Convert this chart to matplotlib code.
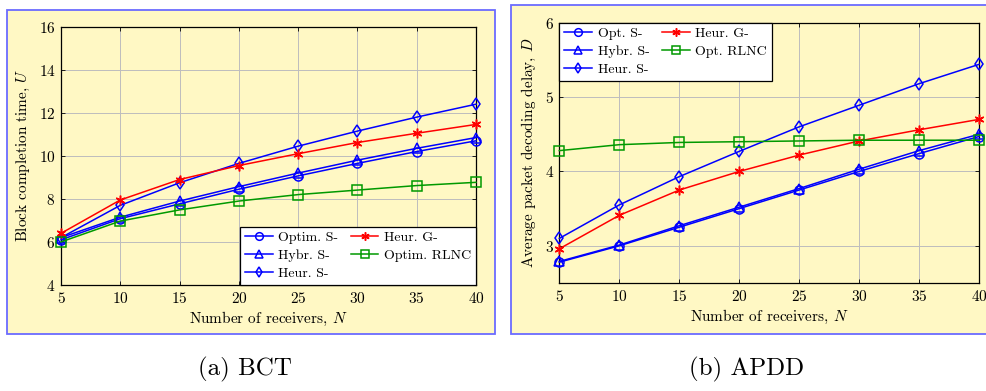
import numpy as np
import matplotlib
matplotlib.use("Agg")
import matplotlib.pyplot as plt
from matplotlib.patches import Rectangle

plt.rcParams['font.family'] = 'serif'
plt.rcParams['font.serif'] = ['cmr10', 'DejaVu Serif']
plt.rcParams['mathtext.fontset'] = 'cm'
plt.rcParams['axes.unicode_minus'] = False
plt.rcParams['axes.formatter.use_mathtext'] = True

# data
receivers = [5, 10, 15, 20, 25, 30, 35, 40]

# (a) block completion time
bct_opt_s = [6.1, 7.08, 7.77, 8.45, 9.07, 9.65, 10.2, 10.7]
bct_hybr_s = [6.2, 7.15, 7.9, 8.57, 9.2, 9.8, 10.35, 10.85]
bct_heur_s = [6.2, 7.7, 8.75, 9.65, 10.45, 11.15, 11.8, 12.4]
bct_heur_g = [6.4, 7.95, 8.9, 9.55, 10.1, 10.62, 11.05, 11.46]
bct_rlnc = [6.0, 6.97, 7.49, 7.9, 8.2, 8.41, 8.62, 8.77]

# (b) average packet decoding delay
apdd_opt_s = [2.78, 3.0, 3.25, 3.5, 3.75, 4.0, 4.24, 4.47]
apdd_hybr_s = [2.79, 3.01, 3.27, 3.52, 3.77, 4.03, 4.28, 4.5]
apdd_heur_s = [3.1, 3.55, 3.93, 4.27, 4.6, 4.89, 5.18, 5.44]
apdd_heur_g = [2.96, 3.41, 3.75, 4.0, 4.22, 4.41, 4.56, 4.7]
apdd_rlnc = [4.28, 4.36, 4.39, 4.4, 4.41, 4.42, 4.42, 4.42]

YELLOW = '#fff8c4'
BORDER = '#6b6bff'
BLUE = '#0000ff'
RED = '#ff0000'
GREEN = '#009900'

fig = plt.figure(figsize=(9.87, 3.91), dpi=100)
fig.patch.set_facecolor('white')

# yellow framed boxes behind each panel
fig.patches.append(Rectangle((0.0071, 0.1458), 0.4944, 0.8286, transform=fig.transFigure,
                             facecolor=YELLOW, edgecolor=BORDER, linewidth=1.3, zorder=-5))
fig.patches.append(Rectangle((0.5177, 0.1458), 0.52, 0.8414, transform=fig.transFigure,
                             facecolor=YELLOW, edgecolor=BORDER, linewidth=1.3, zorder=-5))

ax1 = fig.add_axes([0.0618, 0.2711, 0.4205, 0.6606])
ax2 = fig.add_axes([0.5667, 0.2762, 0.4252, 0.6657])


def draw(ax, series):
    for vals, label, color, marker, ms in series:
        ax.plot(receivers, vals, color=color, marker=marker, markersize=ms,
                markerfacecolor='none', markeredgecolor=color, markeredgewidth=1.1,
                linewidth=1.1, label=label, clip_on=False, zorder=3)
    ax.set_facecolor(YELLOW)
    ax.set_xlim(5, 40)
    ax.set_xticks(receivers)
    ax.grid(True, color='#bdbdbd', linewidth=0.7)
    ax.set_axisbelow(True)
    ax.tick_params(direction='in', top=True, right=True, labelsize=11, length=3,
                   width=0.6, pad=4)
    for s in ax.spines.values():
        s.set_linewidth(0.9)
    ax.set_xlabel('Number of receivers, $N$', fontsize=11, labelpad=3)


star = (6, 2, 0)
leg_kw = dict(borderaxespad=0, ncol=2, fontsize=10, fancybox=False, edgecolor='black',
              framealpha=1, handlelength=2.0, columnspacing=0.9, handletextpad=0.4,
              labelspacing=0.38, borderpad=0.35, markerscale=0.85)

draw(ax1, [
    (bct_opt_s, 'Optim. S-', BLUE, 'o', 6.5),
    (bct_hybr_s, 'Hybr. S-', BLUE, '^', 6.5),
    (bct_heur_s, 'Heur. S-', BLUE, 'd', 6.0),
    (bct_heur_g, 'Heur. G-', RED, star, 7.0),
    (bct_rlnc, 'Optim. RLNC', GREEN, 's', 6.5),
])
ax1.set_ylim(4, 16)
ax1.set_yticks([4, 6, 8, 10, 12, 14, 16])
ax1.set_ylabel('Block completion time, $U$', fontsize=11, labelpad=5)
leg1 = ax1.legend(loc='lower right', bbox_to_anchor=(1, 0), **leg_kw)
leg1.get_frame().set_linewidth(0.9)

draw(ax2, [
    (apdd_opt_s, 'Opt. S-', BLUE, 'o', 6.5),
    (apdd_hybr_s, 'Hybr. S-', BLUE, '^', 6.5),
    (apdd_heur_s, 'Heur. S-', BLUE, 'd', 6.0),
    (apdd_heur_g, 'Heur. G-', RED, star, 7.0),
    (apdd_rlnc, 'Opt. RLNC', GREEN, 's', 6.5),
])
ax2.set_ylim(2.5, 6)
ax2.set_yticks([3, 4, 5, 6])
ax2.set_ylabel('Average packet decoding delay, $D$', fontsize=11, labelpad=5)
leg2 = ax2.legend(loc='upper left', bbox_to_anchor=(0, 1), **leg_kw)
leg2.get_frame().set_linewidth(0.9)

fig.text(0.248, 0.055, '(a) BCT', fontsize=18, ha='center', va='center')
fig.text(0.756, 0.055, '(b) APDD', fontsize=18, ha='center', va='center')

fig.savefig('out.png', dpi=100)
